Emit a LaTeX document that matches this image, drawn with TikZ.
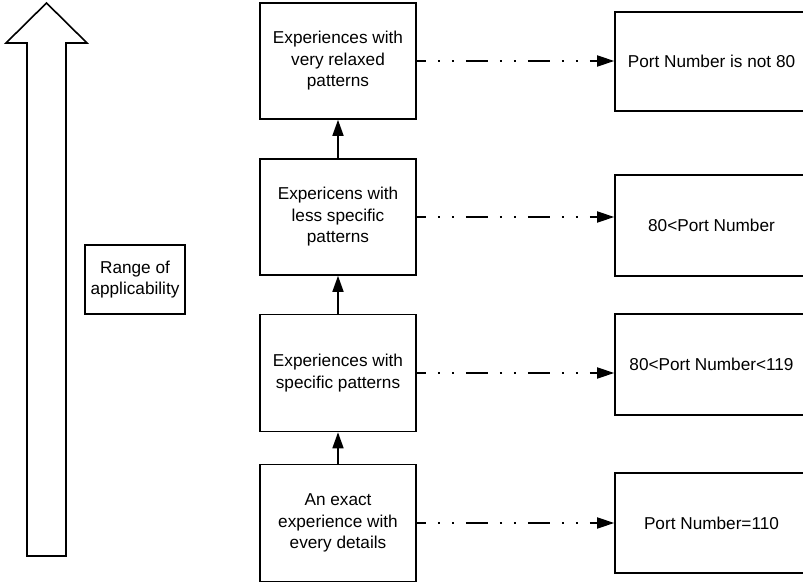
\documentclass[tikz,border=0pt]{standalone}
\usepackage{fontspec}
\setmainfont{Liberation Sans}
\usetikzlibrary{arrows.meta}
\begin{document}
\begin{tikzpicture}[x=1pt,y=-1pt,
 box/.style={draw, line width=1.6pt, align=center, font=\fontsize{17.2}{21.5}\selectfont, inner sep=0pt},
 lbox/.style={box, minimum width=156pt, minimum height=116pt},
 rbox/.style={box, minimum width=193pt, minimum height=100pt},
 up/.style={line width=1.6pt, -{Triangle[length=16pt,width=11pt]}},
 link/.style={line width=1.8pt, dash pattern=on 22pt off 12pt on 2pt off 12pt on 2pt off 12pt, dash phase=13pt, -{Triangle[length=17pt,width=11pt]}}]
\useasboundingbox (0,0) rectangle (803,583);
% big arrow
\draw[line width=1.6pt, line join=miter] (46.5,3) -- (87,43) -- (66,43) -- (66,556) -- (27,556) -- (27,43) -- (6,43) -- cycle;
\node[box, minimum width=100pt, minimum height=69pt] (R) at (135,279.5) {Range of\\applicability};
% left column
\node[lbox] (L1) at (338,61) {Experiences with\\very relaxed\\patterns};
\node[lbox] (L2) at (338,217) {Expericens with\\less specific\\patterns};
\node[lbox, minimum height=117pt] (L3) at (338,373) {Experiences with\\specific patterns};
\node[lbox, minimum height=117pt] (L4) at (338,523) {An exact\\experience with\\every details};
% right column
\node[rbox, minimum height=99pt] (P1) at (711.5,61.5) {Port Number is not 80};
\node[rbox, minimum height=101pt] (P2) at (711.5,225.5) {80<Port Number};
\node[rbox, minimum height=101pt] (P3) at (711.5,364.5) {80<Port Number<119};
\node[rbox] (P4) at (711.5,523) {Port Number=110};
% vertical arrows
\draw[up] (L4.north) -- (L3.south);
\draw[up] (L3.north) -- (L2.south);
\draw[up] (L2.north) -- (L1.south);
% links
\draw[link] (L1.east) -- (L1.east -| P1.west);
\draw[link] (L2.east) -- (L2.east -| P2.west);
\draw[link] (L3.east) -- (L3.east -| P3.west);
\draw[link] (L4.east) -- (L4.east -| P4.west);
\end{tikzpicture}
\end{document}
